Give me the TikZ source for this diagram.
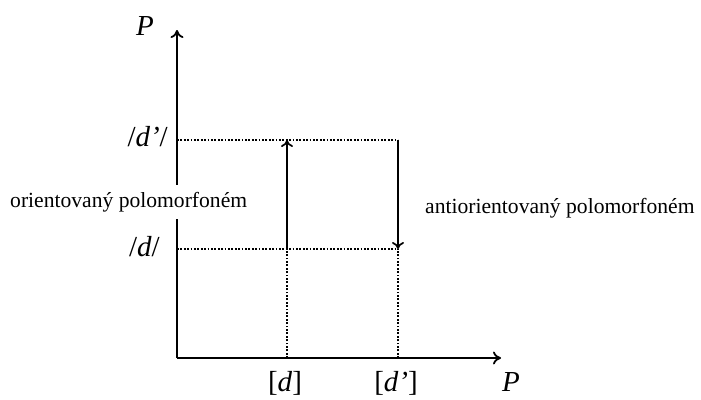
\documentclass[tikz,border=0pt]{standalone}
\usepackage{fontspec}
\setmainfont{Liberation Serif}
\usetikzlibrary{arrows.meta}
\begin{document}
\begin{tikzpicture}[x=1pt,y=-1pt,
  axis/.style={line width=2pt,-{To[length=8pt,width=13pt,line width=1.8pt]}},
  jump/.style={line width=1.9pt,-{To[length=7pt,width=12pt,line width=1.7pt]}},
  guide/.style={line width=1.8pt,dash pattern=on 1.8pt off 1.6pt},
  mlab/.style={inner sep=0pt,font=\fontsize{29}{34}\selectfont},
  tlab/.style={inner sep=0pt,font=\fontsize{21.6}{26}\selectfont}]
\useasboundingbox (0,0) rectangle (701,399);
% coordinates
\coordinate (O) at (177,358);
\coordinate (Ytip) at (177,30);
\coordinate (Xtip) at (501,358);
\coordinate (Yhi) at (177,140);
\coordinate (Ylo) at (177,249);
\coordinate (Ahi) at (287,140);
\coordinate (Alo) at (287,249);
\coordinate (Ab) at (287,358);
\coordinate (Bhi) at (398,140);
\coordinate (Blo) at (398,249);
\coordinate (Bb) at (398,358);
% guides
\draw[guide] (Yhi) -- (Bhi);
\draw[guide] (Ylo) -- (Blo);
\draw[guide] (Ab) -- (Alo);
\draw[guide] (Bb) -- (Blo);
% axes
\draw[axis] (O) -- (Ytip);
\draw[axis] (O) -- (Xtip);
% arrows
\draw[jump] (Alo) -- (Ahi);
\draw[jump] (Bhi) -- (Blo);
% labels
\node[mlab,anchor=base] (py) at (145,35) {\itshape P};
\node[mlab,anchor=base] (px) at (511,391) {\itshape P};
\node[mlab,anchor=base east] (dhi) at (168,146) {/\textit{d’}/};
\node[mlab,anchor=base east] (dlo) at (160,256) {/\textit{d}/};
\node[mlab,anchor=base] (xa) at (285,391) {[\textit{d}]};
\node[mlab,anchor=base] (xb) at (396,391) {[\textit{d’}]};
\node[tlab,anchor=base west,fill=white,inner ysep=7pt,inner xsep=2pt] (ori) at (8,207) {orientovaný polomorfoném};
\node[tlab,anchor=base west] (anti) at (425,213) {antiorientovaný polomorfoném};
\end{tikzpicture}
\end{document}
